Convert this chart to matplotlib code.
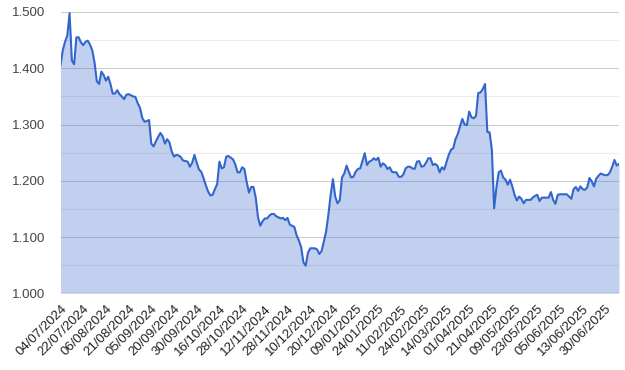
import numpy as np
import matplotlib.pyplot as plt

plt.rcParams['font.family'] = ['Liberation Sans', 'DejaVu Sans']

tick_labels = ['04/07/2024', '22/07/2024', '06/08/2024', '21/08/2024', '05/09/2024',
               '20/09/2024', '30/09/2024', '16/10/2024', '28/10/2024', '12/11/2024',
               '28/11/2024', '10/12/2024', '20/12/2024', '09/01/2025', '24/01/2025',
               '11/02/2025', '24/02/2025', '14/03/2025', '01/04/2025', '21/04/2025',
               '09/05/2025', '23/05/2025', '05/06/2025', '13/06/2025', '30/06/2025']

values = [
    1.405, 1.432, 1.447, 1.458, 1.498, 1.414, 1.407, 1.455, 1.455, 1.446,
    1.441, 1.447, 1.449, 1.442, 1.432, 1.410, 1.377, 1.372, 1.394, 1.388,
    1.378, 1.385, 1.372, 1.355, 1.355, 1.361, 1.354, 1.350, 1.345, 1.353,
    1.354, 1.352, 1.350, 1.349, 1.338, 1.330, 1.312, 1.305, 1.306, 1.308,
    1.266, 1.261, 1.270, 1.278, 1.285, 1.279, 1.266, 1.274, 1.268, 1.252,
    1.243, 1.246, 1.245, 1.242, 1.236, 1.235, 1.234, 1.225, 1.232, 1.246,
    1.232, 1.220, 1.216, 1.205, 1.192, 1.181, 1.174, 1.175, 1.185, 1.194,
    1.234, 1.222, 1.224, 1.243, 1.244, 1.241, 1.238, 1.229, 1.215, 1.215,
    1.224, 1.221, 1.198, 1.179, 1.189, 1.189, 1.170, 1.135, 1.120, 1.128,
    1.133, 1.133, 1.138, 1.141, 1.141, 1.137, 1.135, 1.133, 1.134, 1.130,
    1.134, 1.122, 1.120, 1.118, 1.103, 1.094, 1.082, 1.055, 1.049, 1.072,
    1.080, 1.080, 1.080, 1.078, 1.070, 1.075, 1.092, 1.110, 1.140, 1.175,
    1.203, 1.172, 1.160, 1.165, 1.206, 1.213, 1.227, 1.216, 1.206, 1.207,
    1.216, 1.221, 1.222, 1.235, 1.249, 1.228, 1.234, 1.236, 1.240, 1.237,
    1.241, 1.225, 1.231, 1.228, 1.221, 1.224, 1.216, 1.215, 1.215, 1.207,
    1.207, 1.211, 1.222, 1.225, 1.225, 1.222, 1.221, 1.234, 1.235, 1.225,
    1.226, 1.232, 1.240, 1.240, 1.228, 1.230, 1.227, 1.215, 1.224, 1.220,
    1.233, 1.246, 1.255, 1.258, 1.274, 1.283, 1.297, 1.310, 1.300, 1.299,
    1.323, 1.313, 1.311, 1.315, 1.356, 1.357, 1.363, 1.372, 1.287, 1.286,
    1.255, 1.151, 1.188, 1.215, 1.218, 1.206, 1.202, 1.193, 1.202, 1.190,
    1.175, 1.165, 1.172, 1.168, 1.160, 1.166, 1.166, 1.166, 1.170, 1.173,
    1.175, 1.164, 1.170, 1.170, 1.170, 1.170, 1.180, 1.166, 1.159, 1.175,
    1.176, 1.176, 1.176, 1.176, 1.172, 1.168, 1.185, 1.189, 1.182, 1.190,
    1.185, 1.184, 1.188, 1.205, 1.199, 1.190, 1.204, 1.209, 1.213, 1.211,
    1.210, 1.210, 1.215, 1.225, 1.237, 1.227, 1.230,
]

x = np.arange(len(values))

fig = plt.figure(figsize=(6.25, 3.7), dpi=100)
ax = fig.add_axes([60.5 / 625, 1 - 293.3 / 370, 558.5 / 625, 281.3 / 370])

# minor and major gridlines like google charts
for v in np.arange(1.05, 1.5, 0.1):
    ax.axhline(v, color='#ebebeb', linewidth=0.75, zorder=0)
for v in np.arange(1.1, 1.51, 0.1):
    ax.axhline(v, color='#cccccc', linewidth=0.75, zorder=0)
ax.axhline(1.0, color='#999999', linewidth=1.0, zorder=3)

ax.fill_between(x, 1.0, values, color='#3366cc', alpha=0.3, linewidth=0, zorder=1)
ax.plot(x, values, color='#3366cc', linewidth=1.5, zorder=2)

ax.set_xlim(0, len(values) - 1)
ax.set_ylim(1.0, 1.5)

ax.set_yticks(np.arange(1.0, 1.51, 0.1))
ax.set_yticklabels(['%.3f' % v for v in np.arange(1.0, 1.51, 0.1)], fontsize=9.5, color='#444444')
ax.set_xticks(x[::10])
ax.set_xticklabels(tick_labels, rotation=45, ha='right', va='top',
                   rotation_mode='anchor', fontsize=9.5, color='#222222')

ax.tick_params(axis='y', length=0, pad=11)
ax.tick_params(axis='x', length=0, pad=7)
for s in ax.spines.values():
    s.set_visible(False)

plt.savefig('out.png', dpi=100)
